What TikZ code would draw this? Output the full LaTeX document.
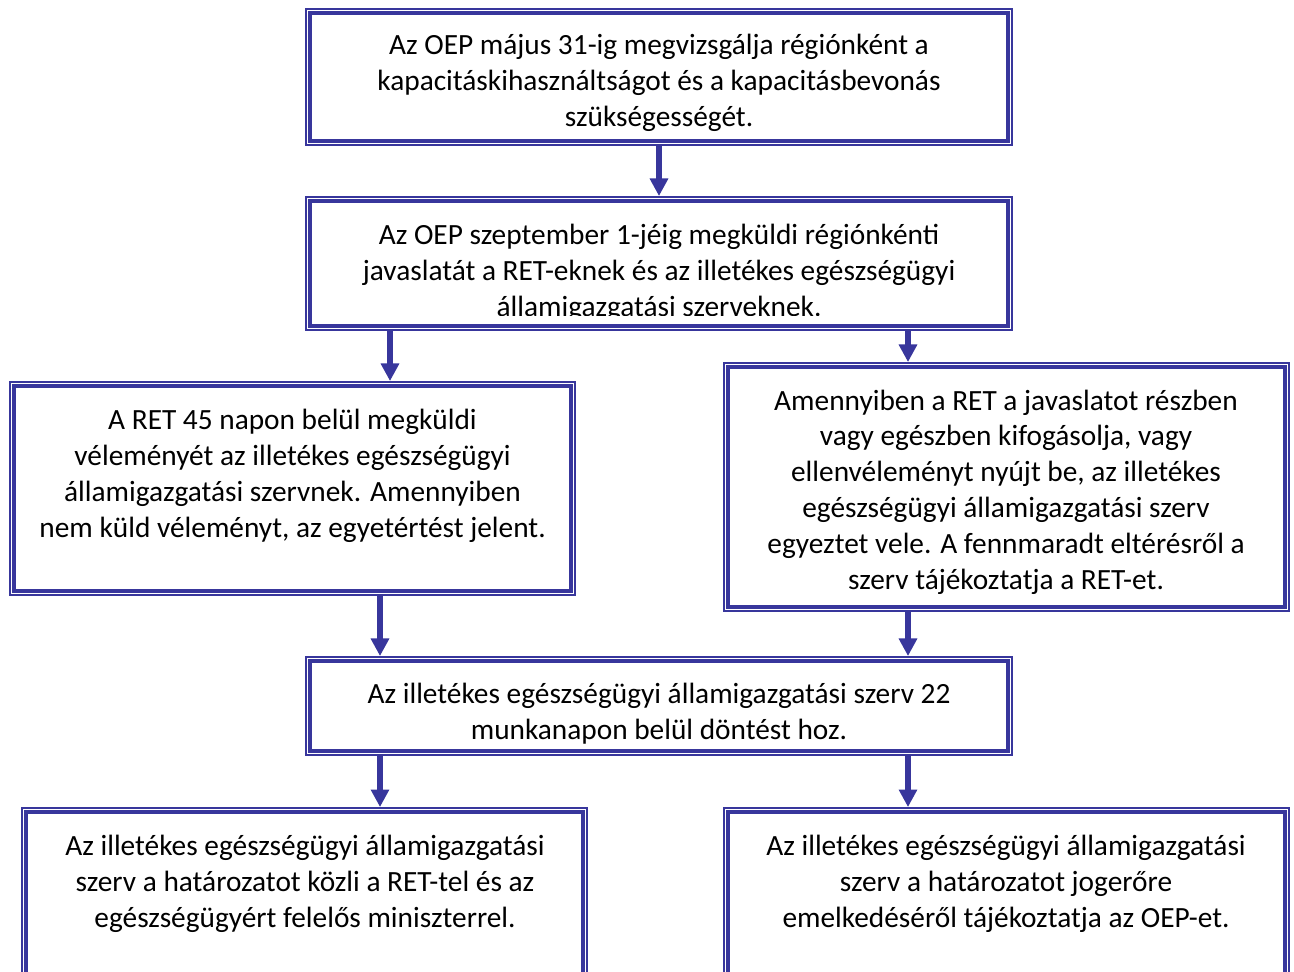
\documentclass[tikz,border=0pt]{standalone}
\usepackage{fontspec}
\setmainfont{Carlito}
\usetikzlibrary{arrows.meta}
\definecolor{oepblue}{RGB}{56,54,156}

\tikzset{
  outerbox/.style={draw=oepblue, line width=1.1pt, inner sep=0pt},
  innerline/.style={draw=oepblue, line width=2pt},
  txt/.style={align=center, inner sep=0pt, font=\fontsize{16.7}{20.4}\selectfont},
  arr/.style={draw=oepblue, line width=2.9pt, -{Triangle[width=10pt,length=10pt]}}
}

\begin{document}
\begin{tikzpicture}[x=0.02cm, y=-0.02cm]
  \useasboundingbox (0,0) rectangle (1294,971);
  \clip (0,0) rectangle (1294,971);
  % boxes
  \node[outerbox, minimum width=14.12cm, minimum height=2.72cm] (b1) at (659,77) {};
  \node[outerbox, minimum width=14.12cm, minimum height=2.66cm] (b2) at (659,263.5) {};
  \node[outerbox, minimum width=11.3cm, minimum height=4.26cm] (b3) at (292.5,488.5) {};
  \node[outerbox, minimum width=11.3cm, minimum height=4.96cm] (b4) at (1006.5,487) {};
  \node[outerbox, minimum width=14.12cm, minimum height=1.96cm] (b5) at (659,706) {};
  \node[outerbox, minimum width=11.3cm, minimum height=3.84cm] (b6) at (304.5,904) {};
  \node[outerbox, minimum width=11.3cm, minimum height=3.84cm] (b7) at (1006.5,904) {};
  \foreach \b in {b1,b2,b3,b4,b5,b6,b7}
    \draw[innerline] ([shift={(0.1cm,-0.1cm)}]\b.north west) rectangle ([shift={(-0.1cm,0.1cm)}]\b.south east);

  % texts
  \node[txt] (t1) at (659,82.5) {Az OEP május 31-ig megvizsgálja régiónként a\\kapacitáskihasználtságot és a kapacitásbevonás\\szükségességét.};
  \begin{scope}
    \clip (306,197) rectangle (1012,315);
    \node[txt] (t2) at (659,272.5) {Az OEP szeptember 1-jéig megküldi régiónkénti\\javaslatát a RET-eknek és az illetékes egészségügyi\\államigazgatási szerveknek.};
  \end{scope}
  \node[txt] (t3) at (292.5,476) {A RET 45 napon belül megküldi\\véleményét az illetékes egészségügyi\\államigazgatási szervnek. Amennyiben\\nem küld véleményt, az egyetértést jelent.};
  \node[txt] (t4) at (1006,492) {Amennyiben a RET a javaslatot részben\\vagy egészben kifogásolja, vagy\\ellenvéleményt nyújt be, az illetékes\\egészségügyi államigazgatási szerv\\egyeztet vele. A fennmaradt eltérésről a\\szerv tájékoztatja a RET-et.};
  \node[txt] (t5) at (659,713.5) {Az illetékes egészségügyi államigazgatási szerv 22\\munkanapon belül döntést hoz.};
  \node[txt] (t6) at (305,883.5) {Az illetékes egészségügyi államigazgatási\\szerv a határozatot közli a RET-tel és az\\egészségügyért felelős miniszterrel.};
  \node[txt] (t7) at (1006,883.5) {Az illetékes egészségügyi államigazgatási\\szerv a határozatot jogerőre\\emelkedéséről tájékoztatja az OEP-et.};

  % arrows
  \draw[arr] (b1.south) -- (b2.north);
  \draw[arr] (390,0 |- b2.south) -- (390,0 |- b3.north);
  \draw[arr] (908,0 |- b2.south) -- (908,0 |- b4.north);
  \draw[arr] (380,0 |- b3.south) -- (380,0 |- b5.north);
  \draw[arr] (908,0 |- b4.south) -- (908,0 |- b5.north);
  \draw[arr] (380,0 |- b5.south) -- (380,0 |- b6.north);
  \draw[arr] (908,0 |- b5.south) -- (908,0 |- b7.north);
\end{tikzpicture}
\end{document}
